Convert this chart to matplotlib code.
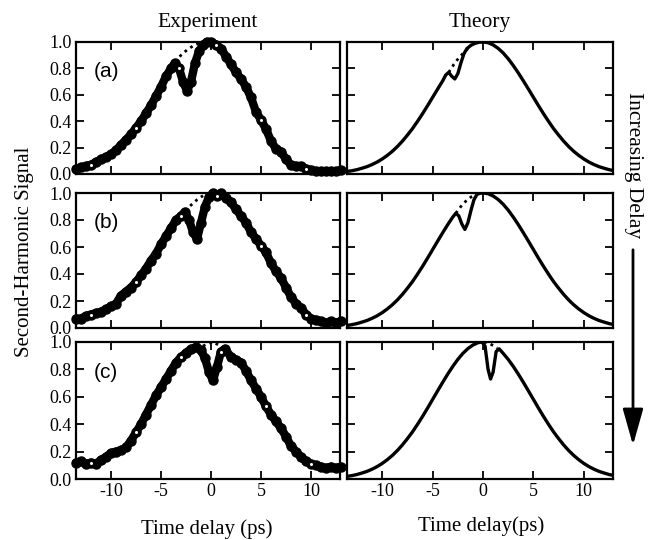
import matplotlib
matplotlib.use('Agg')
import matplotlib.pyplot as plt

plt.rcParams['font.family'] = ['Liberation Serif', 'DejaVu Serif']
plt.rcParams['axes.unicode_minus'] = False

# ---- experiment data ----
exp_a_x = [-13.5, -13, -12.5, -12, -11.5, -11, -10.5, -10, -9.5, -9, -8.5, -8, -7.5, -7, -6.5, -6,
           -5.5, -5, -4.5, -4, -3.6, -3.2, -2.8, -2.4, -2.0, -1.6, -1.2, -0.8, -0.4, 0,
           0.5, 1, 1.5, 2, 2.5, 3, 3.5, 4, 4.5, 5, 5.5, 6, 6.5, 7, 7.5, 8, 8.5, 9, 9.5, 10,
           10.5, 11, 11.5, 12, 12.5, 13]
exp_a_y = [0.04, 0.05, 0.06, 0.07, 0.09, 0.11, 0.13, 0.15, 0.18, 0.22, 0.26, 0.30, 0.35, 0.40, 0.46, 0.52,
           0.59, 0.66, 0.74, 0.80, 0.84, 0.80, 0.70, 0.63, 0.70, 0.84, 0.93, 0.98, 1.0, 1.0,
           0.98, 0.95, 0.89, 0.83, 0.77, 0.72, 0.66, 0.58, 0.47, 0.41, 0.34, 0.25, 0.19, 0.17, 0.11, 0.07,
           0.06, 0.06, 0.04, 0.03, 0.02, 0.02, 0.02, 0.02, 0.02, 0.03]
exp_a_dot_x = [-3.6, -3.0, -2.4, -1.8, -1.2, -0.7]
exp_a_dot_y = [0.85, 0.90, 0.94, 0.97, 0.99, 1.0]

exp_b_x = [-13.5, -13, -12.5, -12, -11.5, -11, -10.5, -10, -9.5, -9, -8.5, -8, -7.5, -7, -6.5, -6,
           -5.5, -5, -4.5, -4, -3.5, -3, -2.6, -2.2, -1.8, -1.4, -1.0, -0.6, -0.2, 0.2, 0.6, 1.0,
           1.5, 2, 2.5, 3, 3.5, 4, 4.5, 5, 5.5, 6, 6.5, 7, 7.5, 8, 8.5, 9, 9.5, 10, 10.5, 11,
           11.5, 12, 12.5, 13]
exp_b_y = [0.07, 0.07, 0.09, 0.10, 0.11, 0.12, 0.14, 0.16, 0.18, 0.24, 0.27, 0.30, 0.34, 0.39, 0.44, 0.50,
           0.55, 0.62, 0.68, 0.74, 0.80, 0.83, 0.86, 0.80, 0.71, 0.66, 0.78, 0.90, 0.97, 1.0, 0.98, 1.0,
           0.96, 0.93, 0.88, 0.83, 0.78, 0.71, 0.66, 0.61, 0.56, 0.48, 0.42, 0.37, 0.30, 0.23, 0.18, 0.15,
           0.10, 0.07, 0.06, 0.05, 0.04, 0.05, 0.04, 0.05]
exp_b_dot_x = [-2.6, -2.0, -1.4, -0.8]
exp_b_dot_y = [0.87, 0.91, 0.95, 0.98]

exp_c_x = [-13.5, -13, -12.5, -12, -11.5, -11, -10.5, -10, -9.5, -9, -8.5, -8, -7.5, -7, -6.5, -6,
           -5.5, -5, -4.5, -4, -3.5, -3, -2.5, -2, -1.5, -1.0, -0.6, -0.2, 0.2, 0.6, 1.0, 1.4,
           2, 2.5, 3, 3.5, 4, 4.5, 5, 5.5, 6, 6.5, 7, 7.5, 8, 8.5, 9, 9.5, 10, 10.5, 11, 11.5,
           12, 12.5, 13]
exp_c_y = [0.12, 0.13, 0.11, 0.12, 0.11, 0.14, 0.16, 0.19, 0.20, 0.21, 0.23, 0.28, 0.34, 0.40, 0.47, 0.54,
           0.61, 0.67, 0.73, 0.79, 0.85, 0.89, 0.92, 0.95, 0.96, 0.94, 0.88, 0.78, 0.72, 0.82, 0.93, 0.95,
           0.89, 0.87, 0.85, 0.79, 0.72, 0.66, 0.60, 0.53, 0.47, 0.42, 0.37, 0.31, 0.24, 0.20, 0.16, 0.13,
           0.11, 0.10, 0.09, 0.08, 0.09, 0.08, 0.09]
exp_c_dot_x = [-0.8, -0.3, 0.2, 0.7]
exp_c_dot_y = [0.97, 0.99, 1.0, 0.98]

# ---- theory curves ----
# smooth envelope shared by the three theory panels
th_base_x = [-13.5, -13, -12.5, -12, -11.5, -11, -10.5, -10, -9.5, -9, -8.5, -8, -7.5, -7, -6.5,
             -6, -5.5, -5, -4.5, -4, -3.5, -3, -2.5, -2, -1.5, -1, -0.5, 0,
             0.5, 1, 1.5, 2, 2.5, 3, 3.5, 4, 4.5, 5, 5.5, 6, 6.5, 7, 7.5, 8, 8.5, 9, 9.5,
             10, 10.5, 11, 11.5, 12, 12.5, 13]
th_base_y = [0.019, 0.025, 0.033, 0.044, 0.056, 0.072, 0.091, 0.114, 0.141, 0.172, 0.208, 0.249, 0.295,
             0.344, 0.399, 0.457, 0.518, 0.581, 0.644, 0.706, 0.766, 0.822, 0.873, 0.917, 0.952, 0.978,
             0.995, 1.0,
             0.995, 0.978, 0.952, 0.917, 0.873, 0.822, 0.766, 0.706, 0.644, 0.581, 0.518, 0.457, 0.399,
             0.344, 0.295, 0.249, 0.208, 0.172, 0.141, 0.114, 0.091, 0.072, 0.056, 0.044, 0.033, 0.025]

# dip sections
dip_a_x = [-3.7, -3.4, -3.1, -2.8, -2.5, -2.2, -1.9, -1.6, -1.2, -0.8, -0.4]
dip_a_y = [0.75, 0.77, 0.74, 0.72, 0.76, 0.84, 0.91, 0.95, 0.975, 0.99, 0.998]
dot_a_x = [-3.4, -2.9, -2.4, -1.9, -1.5]
dot_a_y = [0.77, 0.83, 0.88, 0.92, 0.95]

dip_b_x = [-2.7, -2.4, -2.1, -1.8, -1.5, -1.2, -0.9, -0.6, -0.3]
dip_b_y = [0.85, 0.83, 0.77, 0.73, 0.78, 0.87, 0.95, 0.99, 0.998]
dot_b_x = [-2.7, -2.2, -1.7, -1.2, -0.7]
dot_b_y = [0.85, 0.90, 0.94, 0.97, 0.99]

dip_c_x = [-0.1, 0.2, 0.5, 0.75, 1.0, 1.3, 1.6]
dip_c_y = [1.0, 0.97, 0.80, 0.73, 0.78, 0.93, 0.95]
dot_c_x = [0.1, 0.6, 1.1, 1.4]
dot_c_y = [1.0, 0.99, 0.97, 0.955]

panel_labels = ['(a)', '(b)', '(c)']
x_ticks = [-10, -5, 0, 5, 10]
y_ticks = [0.0, 0.2, 0.4, 0.6, 0.8, 1.0]

exp_sets = [(exp_a_x, exp_a_y, exp_a_dot_x, exp_a_dot_y),
            (exp_b_x, exp_b_y, exp_b_dot_x, exp_b_dot_y),
            (exp_c_x, exp_c_y, exp_c_dot_x, exp_c_dot_y)]
dip_sets = [(dip_a_x, dip_a_y, dot_a_x, dot_a_y),
            (dip_b_x, dip_b_y, dot_b_x, dot_b_y),
            (dip_c_x, dip_c_y, dot_c_x, dot_c_y)]


def merge_dip(dx, dy):
    # envelope outside the dip section, dip points inside it
    lo, hi = min(dx), max(dx)
    pts = [(x, y) for x, y in zip(th_base_x, th_base_y) if x < lo or x > hi]
    pts += list(zip(dx, dy))
    pts.sort()
    return [p[0] for p in pts], [p[1] for p in pts]


W, H = 653, 540
fig = plt.figure(figsize=(W / 100, H / 100), dpi=100)

col_px = [(76, 340), (347, 613)]
row_px = [(42, 174), (193, 328), (342, 479)]


def px_box(xl, xr, yt, yb):
    return [xl / W, 1 - yb / H, (xr - xl) / W, (yb - yt) / H]


def style_axis(ax, show_y, show_x):
    ax.set_xlim(-13.5, 12.9)
    ax.set_ylim(0, 1.0)
    ax.set_xticks(x_ticks)
    ax.set_yticks(y_ticks)
    ax.tick_params(direction='in', length=6, width=1.3, top=True, right=True,
                   labelsize=13, pad=3)
    if show_y:
        ax.set_yticklabels(['%.1f' % v for v in y_ticks])
    else:
        ax.set_yticklabels([])
    if show_x:
        ax.set_xticklabels([str(v) for v in x_ticks])
    else:
        ax.set_xticklabels([])
    for sp in ax.spines.values():
        sp.set_linewidth(1.6)


for i in range(3):
    # experiment
    ax = fig.add_axes(px_box(col_px[0][0], col_px[0][1], row_px[i][0], row_px[i][1]))
    ex, ey, dx, dy = exp_sets[i]
    ax.plot(dx, dy, color='black', ls=(0, (1, 1.5)), lw=2)
    ax.plot(ex, ey, color='black', lw=6, marker='o', ms=6.5, mfc='black', mec='black',
            solid_capstyle='round', solid_joinstyle='round', clip_on=False)
    ax.plot(ex[3::9], ey[3::9], ls='none', marker='o', ms=3, mfc='white', mec='black', mew=0.8)
    ax.text(-11.7, 0.78, panel_labels[i], family=['Liberation Sans', 'DejaVu Sans'],
            fontsize=15, va='center', ha='left')
    style_axis(ax, True, i == 2)
    if i == 0:
        ax.set_title('Experiment', fontsize=15.5, pad=11)

    # theory
    ax2 = fig.add_axes(px_box(col_px[1][0], col_px[1][1], row_px[i][0], row_px[i][1]))
    dipx, dipy, tdx, tdy = dip_sets[i]
    tx, ty = merge_dip(dipx, dipy)
    ax2.plot(tdx, tdy, color='black', ls=(0, (1, 1.5)), lw=2)
    ax2.plot(tx, ty, color='black', lw=2.4, solid_joinstyle='round')
    style_axis(ax2, False, i == 2)
    if i == 0:
        ax2.set_title('Theory', fontsize=15.5, pad=11)

fig.text(25 / W, 1 - 252 / H, 'Second-Harmonic Signal', rotation=90, fontsize=15,
         ha='center', va='center')
fig.text(207 / W, 1 - 529 / H, 'Time delay (ps)', fontsize=15, ha='center', va='center')
fig.text(481 / W, 1 - 526 / H, 'Time delay(ps)', fontsize=15, ha='center', va='center')
fig.text(634 / W, 1 - 165 / H, 'Increasing Delay', rotation=-90, fontsize=15.5,
         ha='center', va='center')
fig.add_artist(matplotlib.patches.FancyArrowPatch(
    (633 / W, 1 - 247 / H), (633 / W, 1 - 448 / H), transform=fig.transFigure,
    arrowstyle='-|>,head_length=1.6,head_width=0.45', mutation_scale=14,
    color='black', lw=2))

fig.savefig('out.png', dpi=100)
